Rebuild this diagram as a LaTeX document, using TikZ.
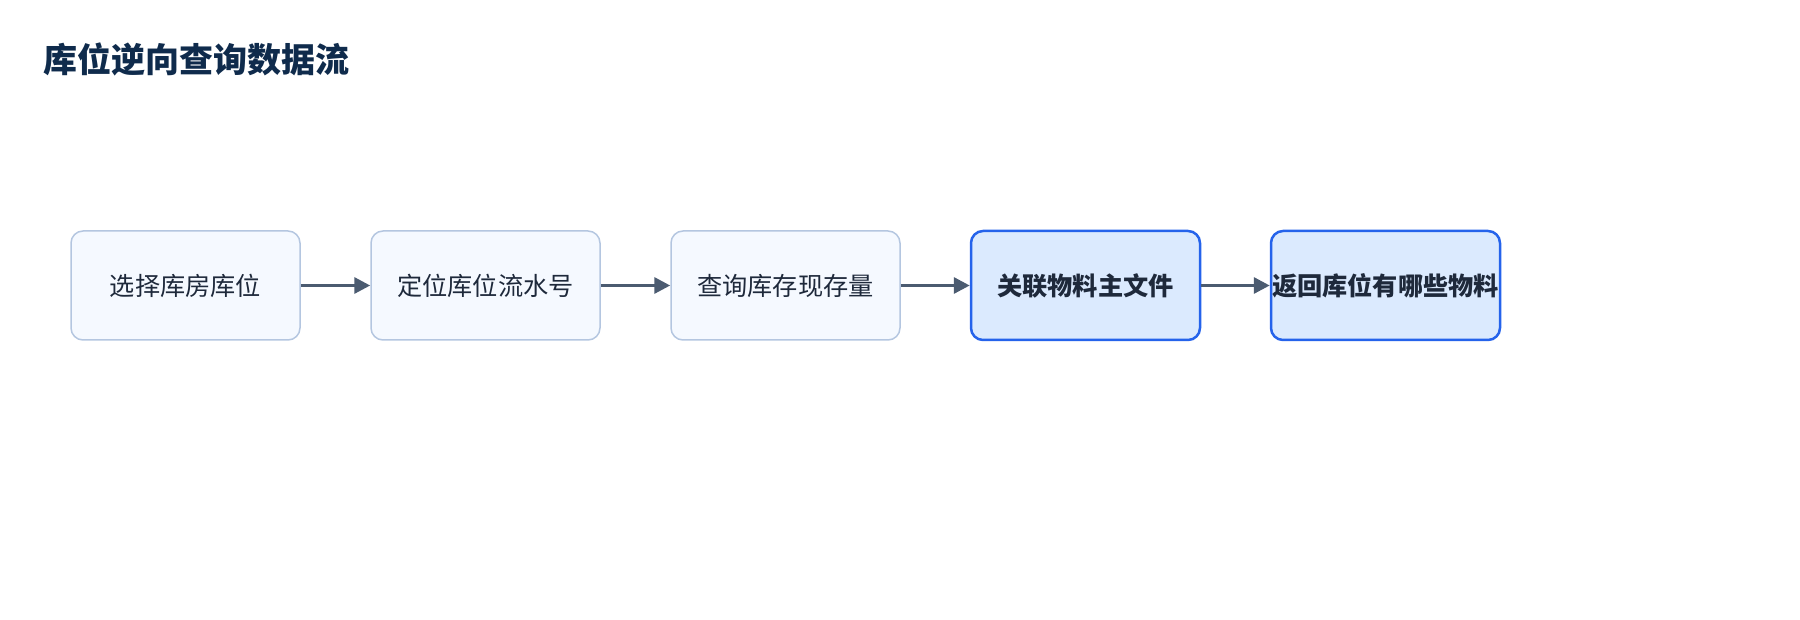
\documentclass[tikz,border=0pt]{standalone}
\usepackage{fontspec}
\setmainfont{Noto Sans CJK SC}
\usepackage{xcolor}
\usetikzlibrary{arrows.meta}
\definecolor{titlecolor}{HTML}{0F2B4C}
\definecolor{textcolor}{HTML}{1E293B}
\definecolor{arrowcolor}{HTML}{4B5B70}
\definecolor{plainfill}{HTML}{F5F9FF}
\definecolor{plainline}{HTML}{B4C6E0}
\definecolor{keyfill}{HTML}{DBEAFE}
\definecolor{keyline}{HTML}{2563EB}

\begin{document}
\begin{tikzpicture}[x=1pt,y=-1pt,
    stepbox/.style={draw=plainline,fill=plainfill,line width=1.5pt,rounded corners=12pt,
      minimum width=229pt,minimum height=109pt,inner sep=0pt,text=textcolor,font=\fontsize{25.2}{30}\selectfont},
    keybox/.style={stepbox,draw=keyline,fill=keyfill,line width=2.5pt,font=\fontsize{25.2}{30}\selectfont\bfseries},
    flow/.style={draw=arrowcolor,line width=3.2pt,-{Triangle[length=16pt,width=16pt]}}]
  \useasboundingbox (0,0) rectangle (1800,620);
  \node[anchor=west,inner sep=0pt,text=titlecolor,font=\fontsize{34}{40}\selectfont\bfseries] (title) at (43,59) {库位逆向查询数据流};
  % steps of the query
  \node[stepbox] (s1) at (185.5,285.5) {选择库房库位};
  \node[stepbox] (s2) at (485.5,285.5) {定位库位流水号};
  \node[stepbox] (s3) at (785.5,285.5) {查询库存现存量};
  \node[keybox] (s4) at (1085.5,285.5) {关联物料主文件};
  \node[keybox] (s5) at (1385.5,285.5) {返回库位有哪些物料};
  \foreach \a/\b in {s1/s2, s2/s3, s3/s4, s4/s5}
    \draw[flow] (\a.east) -- (\b.west);
\end{tikzpicture}
\end{document}
